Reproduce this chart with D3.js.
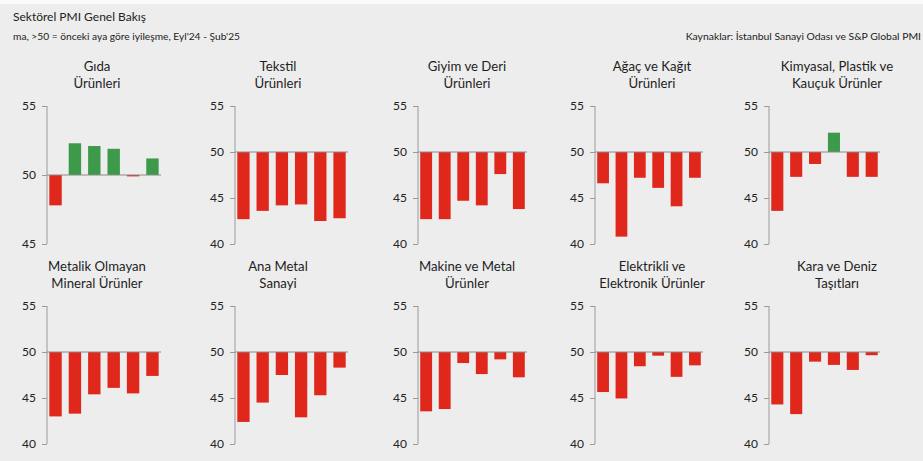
<!DOCTYPE html>
<html><head><meta charset="utf-8">
<script src="https://cdn.jsdelivr.net/npm/d3@7"></script>
<style>
html,body{margin:0;padding:0;background:#ededed;}
svg{display:block;font-family:Lato,"Open Sans",sans-serif;}
</style></head>
<body>
<svg id="c" width="923" height="461"></svg>
<script>
// ---- data ----
const months = ["Eyl'24","Eki'24","Kas'24","Ara'24","Oca'25","Şub'25"];
const sectorTitles = [
  ["Gıda","Ürünleri"],
  ["Tekstil","Ürünleri"],
  ["Giyim ve Deri","Ürünleri"],
  ["Ağaç ve Kağıt","Ürünleri"],
  ["Kimyasal, Plastik ve","Kauçuk Ürünler"],
  ["Metalik Olmayan","Mineral Ürünler"],
  ["Ana Metal","Sanayi"],
  ["Makine ve Metal","Ürünler"],
  ["Elektrikli ve","Elektronik Ürünler"],
  ["Kara ve Deniz","Taşıtları"]
];
const gida       = [47.8, 52.3, 52.1, 51.9, 49.9, 51.2];
const tekstil    = [42.7, 43.6, 44.2, 44.3, 42.5, 42.8];
const giyim      = [42.7, 42.7, 44.7, 44.2, 47.6, 43.8];
const agac       = [46.6, 40.8, 47.2, 46.1, 44.1, 47.2];
const kimyasal   = [43.6, 47.3, 48.7, 52.1, 47.3, 47.3];
const metalik    = [43.0, 43.3, 45.4, 46.1, 45.5, 47.4];
const anaMetal   = [42.4, 44.5, 47.5, 42.9, 45.3, 48.3];
const makine     = [43.55, 43.8, 48.8, 47.6, 49.2, 47.25];
const elektrikli = [45.65, 44.95, 48.45, 49.6, 47.3, 48.55];
const kara       = [44.3, 43.25, 48.95, 48.6, 48.05, 49.65];
const seriesList = [gida, tekstil, giyim, agac, kimyasal, metalik, anaMetal, makine, elektrikli, kara];
const yDomainGida = [45, 55];
const yTicksGida = [45, 50, 55];
const yDomainOther = [40, 55];
const yTicksOther = [40, 45, 50, 55];
const threshold = 50;

const titleText = "Sektörel PMI Genel Bakış";
const subtitleText = "ma, >50 = önceki aya göre iyileşme, Eyl'24 - Şub'25";
const sourceText = "Kaynaklar: İstanbul Sanayi Odası ve S&P Global PMI";

// ---- layout ----
const svg = d3.select("#c");
svg.append("rect").attr("x",0).attr("y",0).attr("width",923).attr("height",461).attr("fill","#ededed");
svg.append("rect").attr("x",0).attr("y",0).attr("width",923).attr("height",4).attr("fill","#fafafa");

svg.append("text").attr("x",13).attr("y",21).attr("font-size",12).attr("fill","#222").text(titleText);
svg.append("text").attr("x",13).attr("y",40).attr("font-size",10.2).attr("fill","#222").text(subtitleText);
svg.append("text").attr("x",921).attr("y",40).attr("text-anchor","end").attr("font-size",10.4).attr("fill","#222").text(sourceText);

const colX = [47, 235, 418, 595, 769];
const colW = [114, 113, 109, 108, 111];
const titleCX = [97, 278, 467, 652, 837];
const rowTop = [106, 306];
const rowBot = [244, 444];
const titleY = [71, 271];

const RED = "#e0271c", GREEN = "#3d9a4a";

seriesList.forEach((vals, i) => {
  const r = Math.floor(i / 5), c = i % 5;
  const isG = i === 0;
  const y = d3.scaleLinear().domain(isG ? yDomainGida : yDomainOther).range([rowBot[r], rowTop[r]]);
  const x = d3.scaleBand().domain(months).range([colX[c], colX[c] + colW[c]]).paddingInner(0.36).paddingOuter(0.12);
  const g = svg.append("g");

  // title
  const t = g.append("text").attr("text-anchor","middle").attr("font-size",13.2).attr("fill","#1e1e1e");
  sectorTitles[i].forEach((line, k) => {
    t.append("tspan").attr("x", titleCX[c]).attr("y", titleY[r] + k*16.5).text(line);
  });

  // axis
  const ax = g.append("g").attr("transform", `translate(${colX[c]},0)`)
    .call(d3.axisLeft(y).tickValues(isG ? yTicksGida : yTicksOther).tickSize(5).tickPadding(6).tickFormat(d3.format("d")));
  ax.select(".domain").attr("stroke","#9a9a9a").attr("d", `M0,${rowTop[r]}V${rowBot[r]}`);
  ax.selectAll(".tick line").attr("stroke","#9a9a9a");
  ax.selectAll(".tick text").attr("font-size",12).attr("fill","#222").attr("font-family","Lato,sans-serif");

  // bars
  g.selectAll("rect.bar").data(vals).enter().append("rect").attr("class","bar")
    .attr("x", (d, j) => x(months[j]))
    .attr("width", x.bandwidth())
    .attr("y", d => Math.min(y(d), y(threshold)))
    .attr("height", d => Math.max(1, Math.abs(y(d) - y(threshold))))
    .attr("fill", d => d >= threshold ? GREEN : RED);

  // baseline at 50
  g.append("line").attr("x1", colX[c]).attr("x2", colX[c] + colW[c])
    .attr("y1", y(threshold)).attr("y2", y(threshold))
    .attr("stroke","#8a8a8a").attr("stroke-width",1);
});
</script>
</body></html>
